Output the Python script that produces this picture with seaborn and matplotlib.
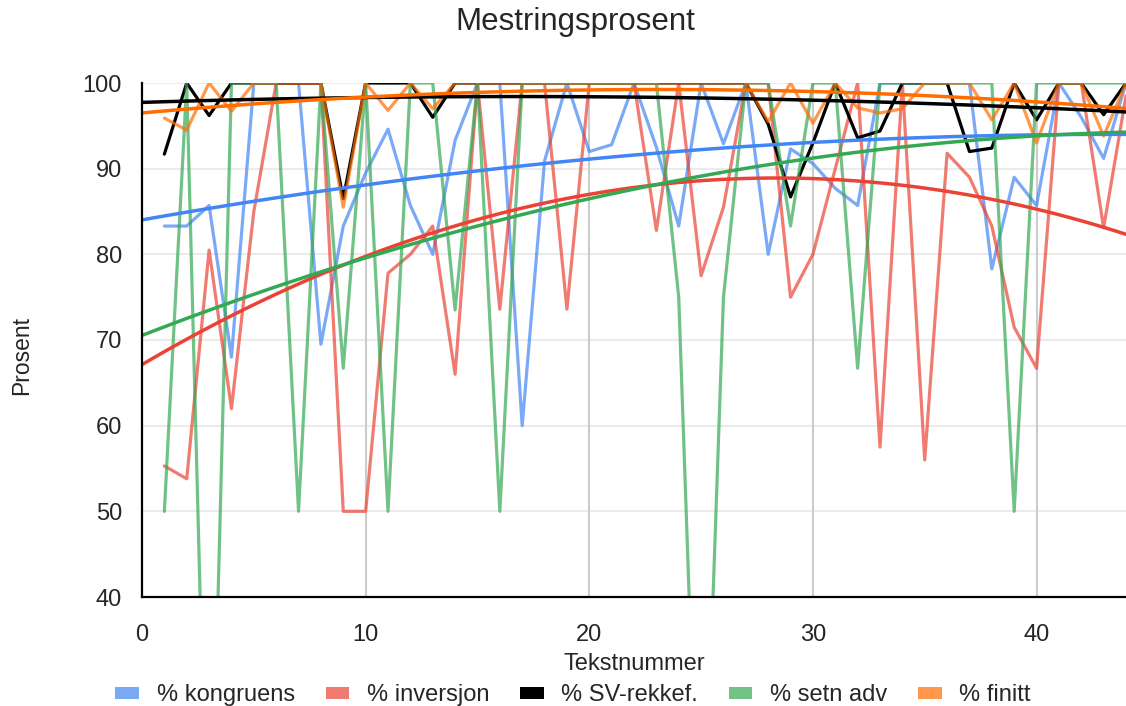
import matplotlib.pyplot as plt
import numpy as np
import pandas as pd
import seaborn as sns
from matplotlib.patches import Patch

tekstnummer = list(range(1, 45))

kongruens = [83.3, 83.3, 85.7, 68, 100, 100, 100, 69.5, 83.3, 89.5,
             94.6, 85.7, 80, 93.3, 100, 100, 60, 90.9, 100, 92,
             92.8, 100, 92.5, 83.3, 100, 92.9, 100, 80, 92.3, 90.6,
             87.7, 85.7, 100, 100, 100, 100, 100, 78.3, 89, 85.7,
             100, 96, 91.2, 100]
inversjon = [55.3, 53.8, 80.5, 62, 85, 100, 100, 100, 50, 50,
             77.8, 80, 83.3, 66, 100, 73.6, 100, 100, 73.6, 100,
             100, 100, 82.8, 100, 77.5, 85.5, 100, 100, 75, 80,
             90, 100, 57.5, 100, 56, 91.8, 89, 83.3, 71.5, 66.7,
             100, 100, 83.1, 98.5]
sv_rekkef = [91.7, 100, 96.2, 100, 100, 100, 100, 100, 86.5, 100,
             100, 100, 96, 100, 100, 100, 100, 100, 100, 100,
             100, 100, 100, 100, 100, 100, 100, 95.2, 86.7, 93,
             100, 93.6, 94.4, 100, 100, 100, 92, 92.4, 100, 95.7,
             100, 100, 96.3, 100]
setn_adv = [50, 100, 0, 100, 100, 100, 50, 100, 66.7, 100,
            50, 100, 100, 73.5, 100, 50, 100, 100, 100, 100,
            100, 100, 100, 75, 0, 75, 100, 100, 83.3, 100,
            100, 66.7, 100, 100, 100, 100, 100, 100, 50, 100,
            100, 100, 100, 100]
finitt = [95.9, 94.5, 100, 96.7, 100, 100, 100, 100, 85.5, 100,
          96.8, 100, 97, 100, 100, 100, 100, 100, 100, 100,
          100, 100, 100, 100, 100, 100, 100, 95.5, 100, 95.3,
          100, 97.1, 96.5, 97, 100, 100, 100, 95.7, 100, 93,
          100, 100, 93.8, 100]

series_names = ['% kongruens', '% inversjon', '% SV-rekkef.', '% setn adv', '% finitt']
series_values = [kongruens, inversjon, sv_rekkef, setn_adv, finitt]
colors = ['#4285F4', '#EA4335', '#000000', '#34A853', '#FF6D01']
alphas = [0.7, 0.7, 1.0, 0.7, 0.7]

df = pd.concat([pd.DataFrame({'Tekstnummer': tekstnummer, 'Prosent': v, 'serie': n})
                for n, v in zip(series_names, series_values)], ignore_index=True)

sns.set_style("white")
plt.rcParams['font.family'] = ['Liberation Sans', 'DejaVu Sans']

fig = plt.figure(figsize=(11.26, 7.06), dpi=100)
ax = fig.add_axes([142 / 1126, 1 - 597 / 706, 1 - 142 / 1126, (597 - 83) / 706])
ax.set_xlim(0, 44)
ax.set_ylim(40, 100)

# grid
ax.set_yticks(range(40, 101, 10))
ax.set_xticks(range(0, 41, 10))
ax.set_xticks(range(0, 45), minor=True)
for yv in range(50, 101, 10):
    ax.axhline(yv, color='#ebebeb', lw=1.5, zorder=0)
for xv in range(10, 41, 10):
    ax.axvline(xv, color='#cccccc', lw=1.5, zorder=0)

# data lines
for n, c, a in zip(series_names, colors, alphas):
    sub = df[df['serie'] == n]
    sns.lineplot(data=sub, x='Tekstnummer', y='Prosent', ax=ax, color=c,
                 alpha=a, linewidth=2.3, zorder=2, legend=False)

# polynomial trendlines
for n, c in zip(series_names, colors):
    sub = df[df['serie'] == n]
    sns.regplot(data=sub, x='Tekstnummer', y='Prosent', ax=ax, order=2, ci=None,
                scatter=False, truncate=False, color=c,
                line_kws=dict(linewidth=2.5, zorder=3, alpha=1))

ax.set_xlim(0, 44)
ax.set_ylim(40, 100)

for s in ['top', 'right']:
    ax.spines[s].set_visible(False)
for s in ['left', 'bottom']:
    ax.spines[s].set_color('black')
    ax.spines[s].set_linewidth(1.6)
    ax.spines[s].set_zorder(4)

ax.tick_params(axis='y', which='major', direction='inout', length=17, width=1.5,
               labelsize=17, pad=6, color='black')
ax.tick_params(axis='x', which='major', direction='inout', length=16.5, width=1.5,
               labelsize=17, pad=11, color='black')
ax.tick_params(axis='x', which='minor', direction='inout', length=8.5, width=1.5,
               color='black')

ax.set_xlabel('Tekstnummer', fontsize=17)
ax.set_ylabel('Prosent', fontsize=16.5)
ax.xaxis.set_label_coords(0.5, -0.108)
ax.yaxis.set_label_coords(-0.111, 0.47)

fig.text(0.511, 1 - 22 / 706, 'Mestringsprosent', fontsize=22.5, ha='center', va='center')

handles = [Patch(facecolor=c, alpha=a, edgecolor='none') for c, a in zip(colors, alphas)]
fig.legend(handles, series_names, loc='center', bbox_to_anchor=(0.509, 0.015), ncol=5,
           frameon=False, fontsize=17, handlelength=1.0, handleheight=0.45,
           handletextpad=0.75, columnspacing=1.3, borderpad=0.1)

fig.savefig('out.png', dpi=100)
